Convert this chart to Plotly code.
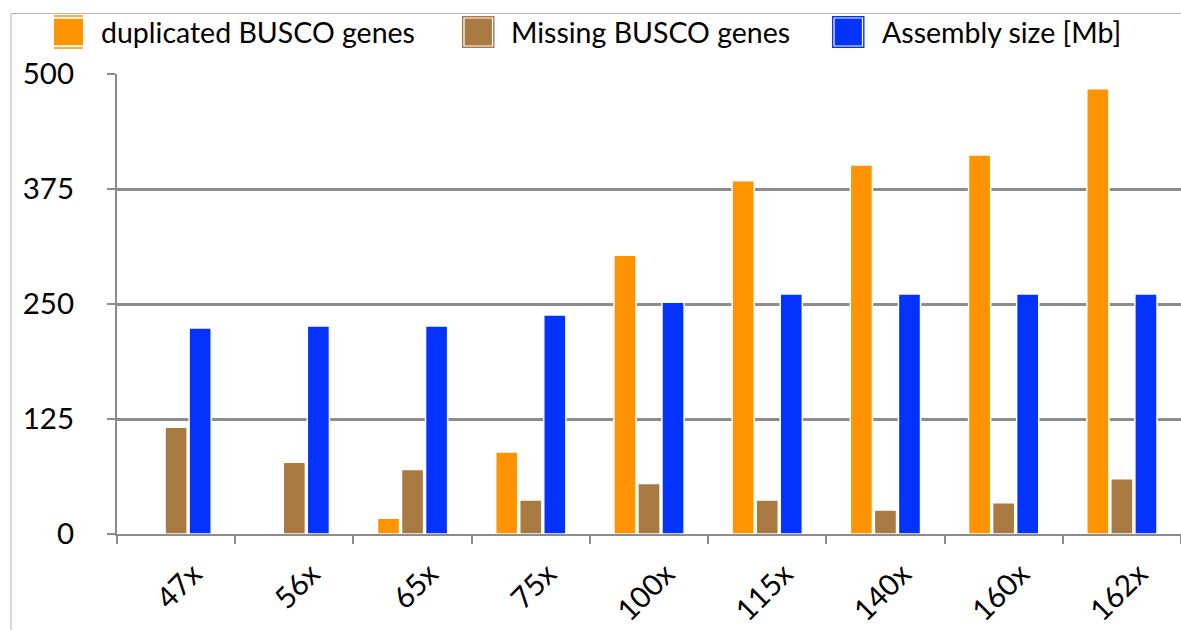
import plotly.graph_objects as go

# Sequencing coverage levels and the three measured series
coverage = ["47x", "56x", "65x", "75x", "100x", "115x", "140x", "160x", "162x"]
duplicated_busco = [0, 0, 17, 89, 303, 384, 401, 412, 484]
missing_busco = [116, 78, 70, 37, 55, 37, 26, 34, 60]
assembly_size_mb = [224, 226, 226, 238, 252, 261, 261, 261, 261]

series_names = ["duplicated BUSCO genes", "Missing BUSCO genes", "Assembly size [Mb]"]
series_colors = ["#FF9400", "#A97942", "#0433FF"]
y_tick_values = [0, 125, 250, 375, 500]

FONT = "Lato"
GRID = "#8C8C8C"

W, H = 1181, 630
M_L, M_R, M_T, M_B = 117, 0, 74, 96
PLOT_W = W - M_L - M_R
PLOT_H = H - M_T - M_B


def px_x(px):
    return (px - M_L) / PLOT_W


def px_y(py):
    return (H - M_B - py) / PLOT_H


fig = go.Figure()
for name, vals, col in zip(series_names,
                           [duplicated_busco, missing_busco, assembly_size_mb],
                           series_colors):
    fig.add_trace(go.Bar(
        x=coverage, y=vals, name=name,
        marker=dict(color=col, line=dict(color="white", width=1.5)),
        showlegend=False,
    ))

shapes = []
annotations = []

# outer frame around the whole chart
shapes.append(dict(type="rect", xref="paper", yref="paper",
                   x0=px_x(11), x1=px_x(1200), y0=px_y(13.5), y1=px_y(650),
                   line=dict(color="#B4B4B4", width=1), fillcolor="rgba(0,0,0,0)",
                   layer="below"))

# legend row: swatch left edges and label starts
swatch_x = [54, 462, 832]
label_x = [101, 511, 882]
sw_top, sw_bot = 16, 48
for i, (name, col) in enumerate(zip(series_names, series_colors)):
    x0 = swatch_x[i]
    if i == 0:
        x1 = x0 + 29
        shapes.append(dict(type="rect", xref="paper", yref="paper",
                           x0=px_x(x0), x1=px_x(x1), y0=px_y(sw_top + 2.8), y1=px_y(sw_bot - 2.8),
                           line=dict(width=0), fillcolor=col))
        for yy in (sw_top, sw_bot):
            shapes.append(dict(type="line", xref="paper", yref="paper",
                               x0=px_x(x0), x1=px_x(x1), y0=px_y(yy), y1=px_y(yy),
                               line=dict(color=col, width=1.5)))
    else:
        x1 = x0 + 32.5
        shapes.append(dict(type="rect", xref="paper", yref="paper",
                           x0=px_x(x0), x1=px_x(x1), y0=px_y(sw_top), y1=px_y(sw_bot),
                           line=dict(width=0), fillcolor=col))
        shapes.append(dict(type="rect", xref="paper", yref="paper",
                           x0=px_x(x0 + 2), x1=px_x(x1 - 2), y0=px_y(sw_top + 2), y1=px_y(sw_bot - 2),
                           line=dict(color="white", width=1.2), fillcolor="rgba(0,0,0,0)"))
    annotations.append(dict(text=name, xref="paper", yref="paper",
                            x=px_x(label_x[i] - 2), y=px_y(32), xanchor="left", yanchor="middle",
                            showarrow=False, font=dict(family=FONT, size=28.5, color="black")))

fig.update_layout(
    width=W, height=H,
    margin=dict(l=M_L, r=M_R, t=M_T, b=M_B, autoexpand=False),
    paper_bgcolor="white", plot_bgcolor="white",
    barmode="group", bargap=0.39, bargroupgap=0.08,
    shapes=shapes, annotations=annotations,
    showlegend=False,
    font=dict(family=FONT, color="black"),
)

fig.update_xaxes(
    type="category", categoryorder="array", categoryarray=coverage,
    showline=True, linecolor=GRID, linewidth=2,
    ticks="outside", tickson="boundaries", ticklen=8, tickwidth=2, tickcolor=GRID,
    tickangle=-45, tickfont=dict(family=FONT, size=29.5, color="black"),
    ticklabelstandoff=9, ticklabelshift=17,
    showgrid=False, zeroline=False, fixedrange=True, automargin=False,
)
fig.update_yaxes(
    range=[0, 500], tickvals=y_tick_values, ticktext=[str(v) for v in y_tick_values],
    showline=True, linecolor=GRID, linewidth=2,
    ticks="outside", ticklen=8, tickwidth=2, tickcolor=GRID,
    tickfont=dict(family=FONT, size=29.5, color="black"),
    ticklabelstandoff=27,
    showgrid=True, gridcolor=GRID, gridwidth=2.5,
    zeroline=False, fixedrange=True, automargin=False,
)

fig.write_html("out.html")
